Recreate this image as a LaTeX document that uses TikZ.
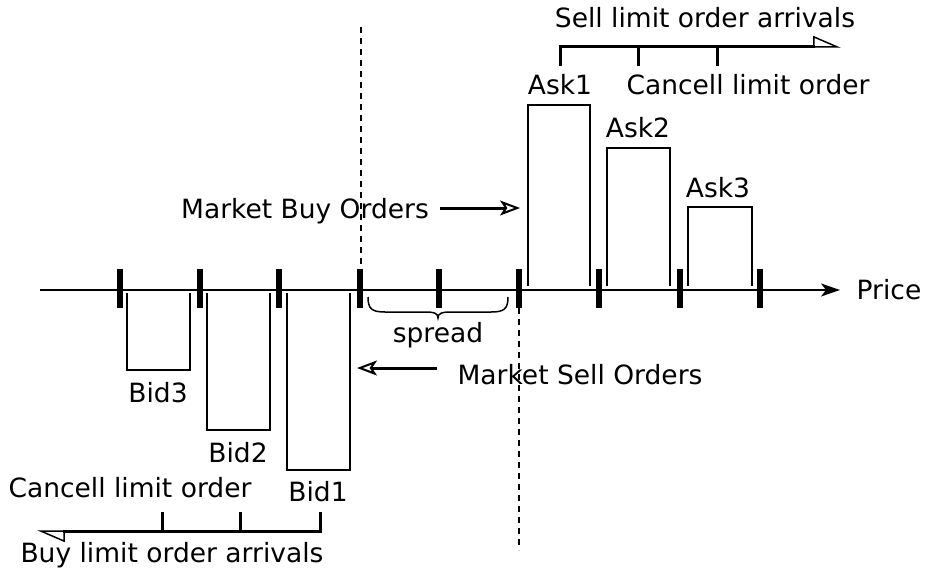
\documentclass[tikz,border=0pt]{standalone}
\usepackage{fontspec}
\setmainfont{DejaVu Sans}
\usetikzlibrary{arrows.meta}
\begin{document}
\begin{tikzpicture}[x=1pt,y=-1pt,
  lbl/.style={font=\fontsize{26.5}{30}\selectfont, inner sep=0pt},
  tickmark/.style={line width=5.5pt},
  thinln/.style={line width=1.5pt},
  arrline/.style={line width=3pt},
  harp/.style={-{Triangle[open,harpoon,length=26pt,width=22pt,line width=1.5pt]}},
  mkt/.style={line width=3pt,-{Stealth[open,length=20pt,width=15pt,inset=5pt,line width=2pt]}},
  dashln/.style={line width=1.5pt,dash pattern=on 6pt off 5pt}]
\useasboundingbox (0,0) rectangle (926,578);
% axis
\coordinate (axL) at (40,290);
\coordinate (axR) at (840,290);
\draw[thinln,-{Stealth[length=19pt,width=13pt,inset=5pt]}] (axL) -- (axR);
\node[lbl] (price) at (889,290) {Price};
\foreach \x in {120,200,279,360,439,519,599,680,760}
  \draw[tickmark] (\x,269) -- (\x,308);
% dashed lines
\draw[dashln] (361,27) -- (361,270);
\draw[dashln] (519,308) -- (519,550);
% bids
\draw[thinln] (127,293) |- (190,370) -- (190,293);
\draw[thinln] (207,293) |- (270,430) -- (270,293);
\draw[thinln] (287,293) |- (350,470) -- (350,293);
\node[lbl] (bid3) at (158,393) {Bid3};
\node[lbl] (bid2) at (238,453) {Bid2};
\node[lbl] (bid1) at (318,492) {Bid1};
% asks
\draw[thinln] (528,286) |- (590,105) -- (590,286);
\draw[thinln] (607,286) |- (670,148) -- (670,286);
\draw[thinln] (688,286) |- (752,207) -- (752,286);
\node[lbl] (ask1) at (560,85) {Ask1};
\node[lbl] (ask2) at (638,128) {Ask2};
\node[lbl] (ask3) at (718,188) {Ask3};
% market orders
\node[lbl] (mbuy) at (305,211) {Market Buy Orders};
\coordinate (mbuystart) at (440,208);
\coordinate (mbuyend) at (520,208);
\draw[mkt] (mbuystart) -- (mbuyend);
\node[lbl] (msell) at (580,375) {Market Sell Orders};
\coordinate (msellstart) at (437,368);
\coordinate (msellend) at (357,368);
\draw[mkt] (msellstart) -- (msellend);
% spread brace
\draw[thinln] (368,297) .. controls (368,309) and (372,312) .. (385,312) -- (424,312)
  .. controls (434,312) and (438,313) .. (438,318)
  .. controls (438,313) and (442,312) .. (452,312) -- (491,312)
  .. controls (504,312) and (508,309) .. (508,297);
\node[lbl] (spread) at (438,335) {spread};
% sell arrivals
\node[lbl] (sellarr) at (705,18) {Sell limit order arrivals};
\coordinate (s0) at (560,66);
\coordinate (s1) at (841,47);
\draw[arrline,harp] (s0) |- (s1);
\draw[arrline] (638,47) -- (638,66);
\draw[arrline] (717,47) -- (717,66);
\node[lbl] (cancelA) at (748,85) {Cancell limit order};
% buy arrivals
\node[lbl] (cancelB) at (130,488) {Cancell limit order};
\coordinate (b0) at (320,512);
\coordinate (b1) at (37,531);
\draw[arrline,harp] (b0) |- (b1);
\draw[arrline] (162,531) -- (162,512);
\draw[arrline] (240,531) -- (240,512);
\node[lbl] (buyarr) at (172,555) {Buy limit order arrivals};
\end{tikzpicture}
\end{document}
